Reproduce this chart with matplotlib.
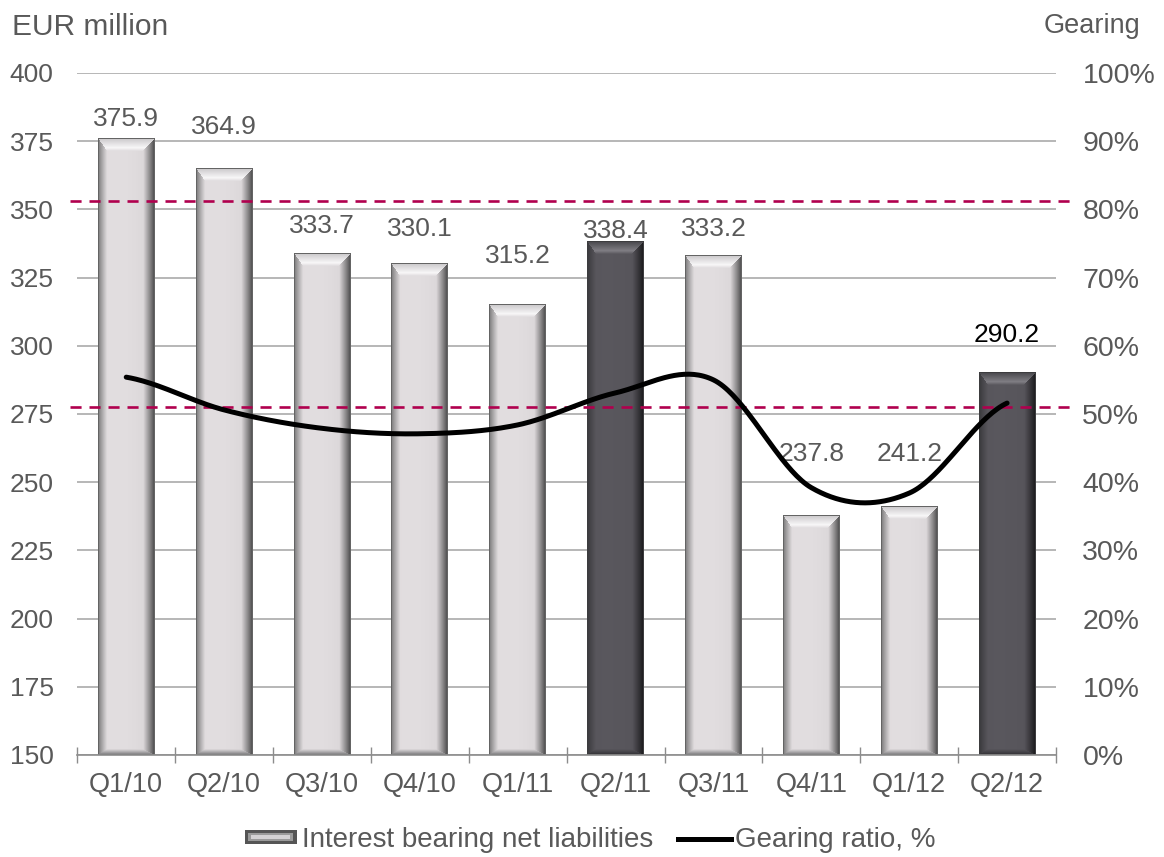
import numpy as np
import matplotlib
matplotlib.use("Agg")
import matplotlib.pyplot as plt
from matplotlib.patches import Rectangle
from matplotlib.lines import Line2D
from matplotlib.legend_handler import HandlerBase

plt.rcParams['font.family'] = ['Liberation Sans', 'DejaVu Sans']

# ---- data ----
quarters = ['Q1/10', 'Q2/10', 'Q3/10', 'Q4/10', 'Q1/11',
            'Q2/11', 'Q3/11', 'Q4/11', 'Q1/12', 'Q2/12']
net_liabilities = [375.9, 364.9, 333.7, 330.1, 315.2,
                   338.4, 333.2, 237.8, 241.2, 290.2]
gearing_pct = [55.4, 50.6, 47.9, 47.1, 48.4, 53.1, 55.0, 39.2, 38.4, 51.6]
highlighted = [False, False, False, False, False, True, False, False, False, True]
gearing_band = [51.0, 81.2]

left_ticks = [150, 175, 200, 225, 250, 275, 300, 325, 350, 375, 400]
right_ticks = [0, 10, 20, 30, 40, 50, 60, 70, 80, 90, 100]

# label baseline distance above each bar top, in points
label_offsets = [9.4, 25.2, 15.1, 20.2, 29.5, 2.2, 13.7, 39.2, 32.4, 22.0]

TEXT = '#595959'
W_PX, H_PX = 1164, 857
fig = plt.figure(figsize=(W_PX / 100, H_PX / 100), dpi=100)
ax = fig.add_axes([77.3 / W_PX, 102 / H_PX, 978.7 / W_PX, 682 / H_PX])

n = len(quarters)
x = np.arange(n)
bar_w = 0.58
ymin, ymax = 150, 400
ax.set_xlim(-0.5, n - 0.5)
ax.set_ylim(ymin, ymax)

# gridlines
ax.set_yticks(left_ticks)
ax.yaxis.grid(True, color='#a3a3a3', lw=1.1, zorder=0)
ax.set_axisbelow(True)
ax.tick_params(axis='y', length=0, pad=17, labelsize=19, labelcolor=TEXT)

for s in ['top', 'right', 'left']:
    ax.spines[s].set_visible(False)
ax.spines['bottom'].set_color('#8c8c8c')
ax.spines['bottom'].set_linewidth(1.2)

ax.set_xticks(x)
ax.set_xticklabels(quarters)
ax.tick_params(axis='x', which='major', length=0, pad=12, labelsize=19.5, labelcolor=TEXT)
ax.set_xticks(np.arange(n + 1) - 0.5, minor=True)
ax.tick_params(axis='x', which='minor', direction='inout', length=11, width=1.0, color='#8c8c8c')

# bars
bars = ax.bar(x, net_liabilities, width=bar_w, color='none', edgecolor='none', zorder=2)


def lerp(c0, c1, t):
    c0 = np.asarray(c0, float)
    c1 = np.asarray(c1, float)
    return c0 + (c1 - c0) * t[..., None]


def bevel_image(w, h, face, left, right, top, bottom, outline, hilite):
    j = np.arange(w)[None, :] + 0.5
    i = np.arange(h)[:, None] + 0.5
    sizes = (9.0, 12.0, 13.0, 6.0)
    d = np.stack(np.broadcast_arrays(j / sizes[0], (w - j) / sizes[1],
                                     i / sizes[2], (h - i) / sizes[3]))
    idx = d.argmin(axis=0)
    val = d.min(axis=0)
    img = np.empty((h, w, 3))
    img[:] = face
    # soft horizontal shading of the face
    u = j[0] / w
    shade = 1.0 + 0.03 * np.sin(np.pi * u) - 0.04 * u
    img *= shade[None, :, None]
    for k, col in enumerate([left, right, top, bottom]):
        m = (idx == k) & (val < 1)
        t = np.clip(val[m], 0, 1)
        if k == 2:
            base = lerp(col, hilite, np.clip(t / 0.75, 0, 1))
            t2 = np.clip((t - 0.75) / 0.25, 0, 1)
            img[m] = base * (1 - t2[:, None]) + np.asarray(face) * t2[:, None]
        else:
            img[m] = lerp(col, face, t ** 0.9)
    edge = (j < 1.5) | (w - j < 1.5) | (i < 1.5) | (h - i < 1.2)
    edge = np.broadcast_to(edge, (h, w))
    img[edge] = outline
    return np.clip(img, 0, 255).astype(np.uint8)


fig.canvas.draw()
to_px = ax.transData
for b, hl in zip(bars, highlighted):
    x0 = b.get_x()
    x1 = x0 + b.get_width()
    y1 = b.get_height()
    (px0, py0), (px1, py1) = to_px.transform([(x0, ymin), (x1, y1)])
    w_px = max(int(round(px1 - px0)), 2)
    h_px = max(int(round(py1 - py0)), 2)
    if hl:
        img = bevel_image(w_px, h_px, face=(88, 86, 92), left=(55, 55, 58),
                          right=(22, 22, 24), top=(70, 69, 74), bottom=(45, 45, 48),
                          outline=(60, 60, 62), hilite=(128, 126, 132))
    else:
        img = bevel_image(w_px, h_px, face=(223, 219, 221), left=(115, 115, 115),
                          right=(65, 65, 65), top=(200, 198, 200), bottom=(110, 110, 112),
                          outline=(100, 100, 100), hilite=(248, 247, 248))
    ax.imshow(img, extent=(x0, x1, ymin, y1), aspect='auto', origin='upper',
              interpolation='nearest', zorder=2)

ax.set_xlim(-0.5, n - 0.5)
ax.set_ylim(ymin, ymax)

# value labels
for xi, v, off in zip(x, net_liabilities, label_offsets):
    col = 'black' if xi == n - 1 else TEXT
    ax.annotate(f'{v:.1f}', (xi, v), xytext=(0, off), textcoords='offset points',
                ha='center', va='baseline', fontsize=19, color=col, zorder=6)

# secondary axis: gearing ratio
ax2 = ax.twinx()
ax2.set_ylim(0, 100)
ax2.set_xlim(-0.5, n - 0.5)
ax2.set_yticks(right_ticks)
ax2.set_yticklabels([f'{t}%' for t in right_ticks])
ax2.tick_params(axis='y', length=0, pad=19, labelsize=20.5, labelcolor=TEXT)
for s in ax2.spines.values():
    s.set_visible(False)

for lvl in gearing_band:
    ax2.axhline(lvl, xmin=-0.007, xmax=1.015, color='#b0004e', lw=1.9,
                dashes=(4.2, 3.0), clip_on=False, zorder=3)


def smooth_curve(xs, ys, per_seg=40):
    xs = np.asarray(xs, float)
    ys = np.asarray(ys, float)
    m = np.empty_like(ys)
    m[1:-1] = (ys[2:] - ys[:-2]) / 2
    m[0] = (ys[1] - ys[0]) * 0.5
    m[-1] = (ys[-1] - ys[-2]) * 0.5
    out_x, out_y = [], []
    t = np.linspace(0, 1, per_seg, endpoint=False)
    for k in range(len(xs) - 1):
        h00 = 2 * t**3 - 3 * t**2 + 1
        h10 = t**3 - 2 * t**2 + t
        h01 = -2 * t**3 + 3 * t**2
        h11 = t**3 - t**2
        out_x.append(xs[k] + t * (xs[k + 1] - xs[k]))
        out_y.append(h00 * ys[k] + h10 * m[k] + h01 * ys[k + 1] + h11 * m[k + 1])
    out_x.append([xs[-1]])
    out_y.append([ys[-1]])
    return np.concatenate(out_x), np.concatenate(out_y)


cx, cy = smooth_curve(x, gearing_pct)
ax2.plot(cx, cy, color='black', lw=3.6, solid_capstyle='round', zorder=4)

# titles of the two axes
fig.text(12 / W_PX, 1 - 35 / H_PX, 'EUR million', fontsize=21.5, color=TEXT, va='baseline', ha='left')
fig.text(1140 / W_PX, 1 - 33 / H_PX, 'Gearing', fontsize=19.5, color=TEXT, va='baseline', ha='right')


class BevelSwatch(HandlerBase):
    def create_artists(self, legend, orig_handle, xdescent, ydescent,
                       width, height, fontsize, trans):
        x0, y0 = -xdescent, -ydescent
        outer = Rectangle((x0, y0), width, height, facecolor='#555555',
                          edgecolor='none', transform=trans)
        ins = height * 0.22
        mid = Rectangle((x0 + ins, y0 + ins), width - ins * 2.6, height - 2 * ins,
                        facecolor='#9a9a9a', edgecolor='none', transform=trans)
        inner = Rectangle((x0 + ins * 2, y0 + ins * 1.6), width - ins * 4.5, height - 3.2 * ins,
                          facecolor='#d4d2d4', edgecolor='none', transform=trans)
        return [outer, mid, inner]


bar_handle = Rectangle((0, 0), 1, 1)
line_handle = Line2D([], [], color='black', lw=3.6)
fig.legend([bar_handle, line_handle],
           ['Interest bearing net liabilities', 'Gearing ratio, %'],
           handler_map={Rectangle: BevelSwatch()},
           loc='center', bbox_to_anchor=(590 / W_PX, 1 - 840 / H_PX),
           ncol=2, frameon=False, fontsize=20, labelcolor=TEXT,
           handlelength=1.9, handleheight=0.4, handletextpad=0.15,
           columnspacing=0.9)

fig.savefig('out.png', dpi=100)
